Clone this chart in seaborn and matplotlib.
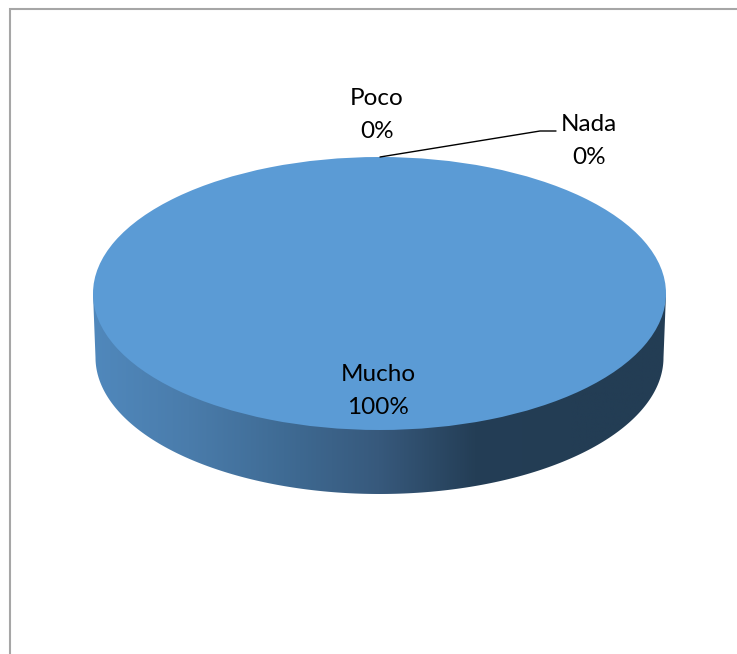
import numpy as np
import matplotlib
matplotlib.use('Agg')
import matplotlib.pyplot as plt
from matplotlib.patches import Polygon
import seaborn as sns

# Data
categories = ['Mucho', 'Poco', 'Nada']
values = [100, 0, 0]
slice_color = '#5B9BD5'
wall_colors = ['#5088BC', '#4A7CAB', '#3F6B94', '#37597C', '#243E56', '#233D54', '#233D54']

sns.set_theme(style='white')
plt.rcParams['font.family'] = ['Lato', 'DejaVu Sans']

W, H = 737, 654
CX, CY, RX, RY = 379.5, 293.5, 286.5, 136.5


# pixel position in the reference -> pie units
def px(x, y):
    return (x - CX) / RX, (CY - y) / RY


fig = plt.figure(figsize=(W / 100, H / 100), dpi=100)
ax = fig.add_axes([0, 0, 1, 1])

# top of the disc
ax.pie(values, colors=[slice_color] * 3, startangle=90, counterclock=False,
       wedgeprops={'linewidth': 0, 'zorder': 3})
ax.set_aspect('auto')

# side wall of the disc
depth = 64 / RY
wall_rx = 284 / RX
t = np.linspace(np.pi, 2 * np.pi, 200)
wall_x = wall_rx * np.cos(t)
wall_y = np.sin(t) - depth
outline = np.column_stack([np.r_[-1, wall_x, 1], np.r_[0, wall_y, 0]])
clip = Polygon(outline, closed=True, transform=ax.transData, fc='none', ec='none')
ax.add_patch(clip)
cmap = sns.blend_palette(wall_colors, n_colors=256, as_cmap=True)
img = ax.imshow(np.linspace(0, 1, 256).reshape(1, -1), cmap=cmap, aspect='auto',
                extent=(-1, 1, -1 - depth, 0), zorder=1)
img.set_clip_path(clip)

ax.set_xlim(px(0, 0)[0], px(W, 0)[0])
ax.set_ylim(px(0, H)[1], px(0, 0)[1])
ax.axis('off')

# chart border, open on the right and at the bottom
bx, by = zip(px(10, H), px(10, 9), px(W, 9))
ax.plot(bx, by, color='#A6A6A6', lw=1.5, zorder=2, solid_joinstyle='miter')

# leader line for Nada
lx, ly = zip(px(380, 157), px(540, 131), px(556, 131))
ax.plot(lx, ly, color='black', lw=1.0, zorder=5)

# data labels
label_pos = {'Mucho': (378, 391), 'Poco': (377, 115), 'Nada': (589, 141)}
for name, val in zip(categories, values):
    tx, ty = px(*label_pos[name])
    ax.text(tx, ty, f'{name}\n{val}%', ha='center', va='center', fontsize=17.5,
            color='black', linespacing=1.68, zorder=6)

fig.savefig('out.png', dpi=100, facecolor='white')
